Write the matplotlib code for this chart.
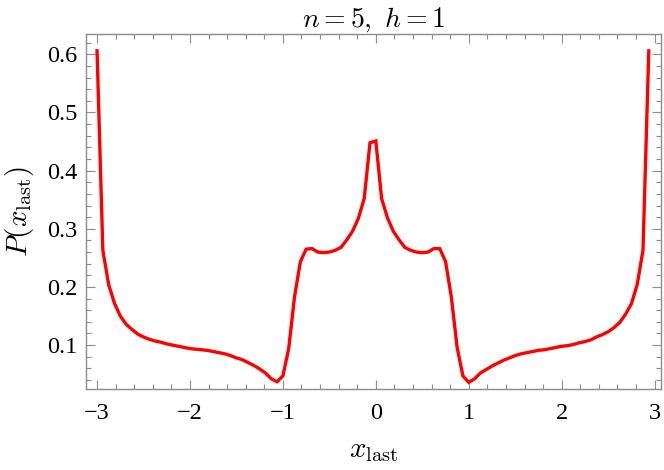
#!/usr/bin/env python3
"""P(x_last) fuer n=5, h=1 -- Nachbau eines Mathematica-Plots."""
import numpy as np
import matplotlib
matplotlib.use("Agg")
import matplotlib.pyplot as plt
from matplotlib.ticker import MultipleLocator

# =============================================================================
# Daten, Gitter x = -3 ... 2.9375, Schritt 1/16
# =============================================================================

X_START = -3.0
X_STEP = 0.0625

p_left = [
    0.606, 0.263, 0.204, 0.172, 0.150, 0.136, 0.127, 0.119,
    0.114, 0.110, 0.107, 0.105, 0.102, 0.100, 0.098, 0.096,
    0.094, 0.093, 0.092, 0.091, 0.089, 0.087, 0.085, 0.082,
    0.078, 0.075, 0.070, 0.065, 0.059, 0.052, 0.042, 0.037,
    0.047, 0.094, 0.183, 0.243, 0.265, 0.266, 0.260, 0.259,
    0.260, 0.263, 0.268, 0.281, 0.296, 0.318, 0.352, 0.448,
]
p_right = [
    0.451, 0.352, 0.319, 0.296, 0.281, 0.268, 0.263, 0.260,
    0.259, 0.260, 0.266, 0.266, 0.244, 0.183, 0.096, 0.047,
    0.036, 0.042, 0.052, 0.058, 0.064, 0.069, 0.074, 0.078,
    0.082, 0.085, 0.087, 0.089, 0.091, 0.092, 0.094, 0.096,
    0.098, 0.099, 0.101, 0.104, 0.106, 0.109, 0.114, 0.118,
    0.123, 0.130, 0.139, 0.153, 0.171, 0.204, 0.263, 0.606,
]

p = np.array(p_left + p_right)
x = X_START + X_STEP * np.arange(len(p))

x_ticks = [-3, -2, -1, 0, 1, 2, 3]
y_ticks = [0.1, 0.2, 0.3, 0.4, 0.5, 0.6]

# =============================================================================
# Plot
# =============================================================================

plt.rcParams["font.family"] = ["Liberation Serif", "DejaVu Serif"]
plt.rcParams["mathtext.fontset"] = "cm"

frame_col = "#8c8c8c"

fig = plt.figure(figsize=(6.64, 4.70), dpi=100)
ax = fig.add_axes([0.1295, 0.1723, 0.866, 0.7554])

ax.plot(x, p, color="#ff0000", linewidth=2.4, solid_joinstyle="miter")

ax.set_xlim(-3.119, 3.069)
ax.set_ylim(0.0245, 0.635)
ax.set_xticks(x_ticks)
ax.set_yticks(y_ticks)
ax.set_yticklabels([f"{v:.1f}" for v in y_ticks])
ax.xaxis.set_minor_locator(MultipleLocator(0.2))
ax.yaxis.set_minor_locator(MultipleLocator(0.02))

ax.tick_params(which="both", direction="in", top=True, right=True,
               color=frame_col, width=0.8, labelsize=17.5, labelcolor="black")
ax.tick_params(which="major", length=6.5)
ax.tick_params(which="minor", length=3.5)
ax.tick_params(axis="x", which="major", pad=10)
ax.tick_params(axis="y", which="major", pad=6)
for s in ax.spines.values():
    s.set_color(frame_col)
    s.set_linewidth(1.0)

ax.set_xlabel(r"$x_{\rm last}$", fontsize=21, labelpad=10)
ax.set_ylabel(r"$P(x_{\rm last})$", fontsize=21, labelpad=8)
ax.set_title(r"$n=5,\ h=1$", fontsize=20, pad=5)

fig.savefig("out.png", dpi=100)
